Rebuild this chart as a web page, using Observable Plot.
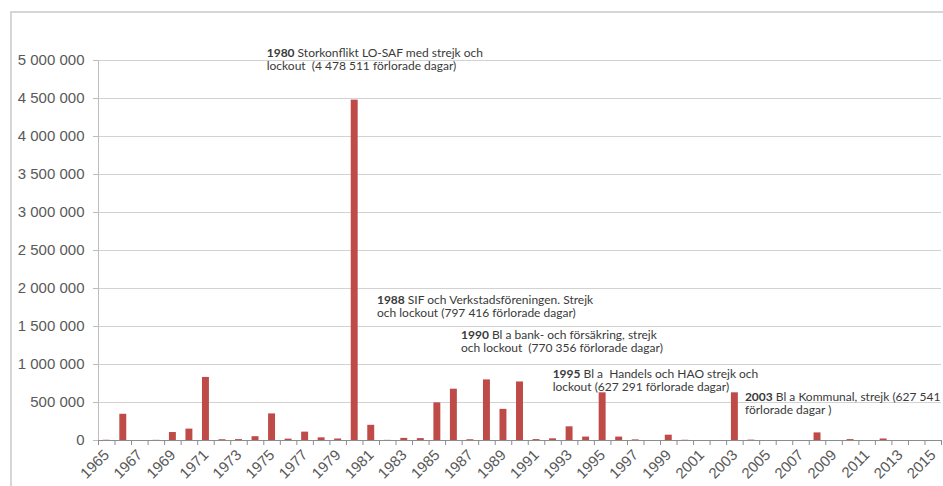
<!DOCTYPE html>
<html><head><meta charset="utf-8">
<script src="https://cdn.jsdelivr.net/npm/d3@7"></script>
<script src="https://cdn.jsdelivr.net/npm/@observablehq/plot@0.6"></script>
<style>
html,body{margin:0;padding:0;background:#fff;}
#wrap{position:relative;width:943px;height:486px;overflow:hidden;background:#fff;}
#frame{position:absolute;left:10px;top:11px;right:0;bottom:0;border-left:2px solid #d6d6d6;border-top:2px solid #d6d6d6;pointer-events:none;}
</style></head><body>
<div id="wrap"><div id="chart"></div><div id="frame"></div></div>
<script>
// Categories
const years = [1965,1966,1967,1968,1969,1970,1971,1972,1973,1974,1975,1976,1977,1978,1979,
  1980,1981,1982,1983,1984,1985,1986,1987,1988,1989,1990,1991,1992,1993,1994,
  1995,1996,1997,1998,1999,2000,2001,2002,2003,2004,2005,2006,2007,2008,2009,
  2010,2011,2012,2013,2014,2015];
// Lost working days per year
const values = [3000,345000,0,2000,105000,150000,830000,10000,12000,50000,350000,18000,110000,35000,20000,
  4478511,200000,2000,28000,25000,495000,675000,10000,797416,410000,770356,12000,22000,180000,45000,
  627291,45000,8000,0,70000,3000,0,0,627541,5000,0,0,0,100000,0,
  12000,0,20000,0,0,0];
// Tick labels
const yTicks = [0,500000,1000000,1500000,2000000,2500000,3000000,3500000,4000000,4500000,5000000];
const xLabelYears = [1965,1967,1969,1971,1973,1975,1977,1979,1981,1983,1985,1987,1989,1991,1993,1995,1997,1999,2001,2003,2005,2007,2009,2011,2013,2015];
// Annotations
const annYears = [1980,1988,1990,1995,2003];
const annTexts = [
  "1980 Storkonflikt LO-SAF med strejk och\nlockout  (4 478 511 förlorade dagar)",
  "1988 SIF och Verkstadsföreningen. Strejk\noch lockout (797 416 förlorade dagar)",
  "1990 Bl a bank- och försäkring, strejk\noch lockout  (770 356 förlorade dagar)",
  "1995 Bl a  Handels och HAO strejk och\nlockout (627 291 förlorade dagar)",
  "2003 Bl a Kommunal, strejk (627 541\nförlorade dagar )"
];
// annotation offsets from bar top (layout)
const annDx = [-88,-110,-59,-50,10];
const annDy = [-52.6,-85.4,-52.5,-24.3,-1.3];

const W = 943, H = 486, mL = 98, mR = 2, mT = 60, mB = 46;
const step = (W - mL - mR) / years.length;
const fmt = d3.formatLocale({decimal: ",", thousands: "\u00a0", grouping: [3], currency: ["", ""]}).format(",");
const data = years.map((year, i) => ({year, value: values[i]}));
const ann = annYears.map((year, i) => ({year, value: values[years.indexOf(year)], text: annTexts[i], dx: annDx[i], dy: annDy[i]}));

const chart = Plot.plot({
  width: W, height: H, marginLeft: mL, marginRight: mR, marginTop: mT, marginBottom: mB,
  style: {background: "#fff", fontFamily: "'Liberation Sans', Arial, sans-serif", color: "#595959", overflow: "visible"},
  x: {type: "band", domain: years, paddingInner: 0.58, paddingOuter: 0.29, round: false, axis: null},
  y: {domain: [0, 5000000], axis: null},
  marks: [
    Plot.gridY({ticks: yTicks, stroke: "#d2d2d2", strokeOpacity: 1}),
    Plot.ruleX([years[0]], {x: d => d, dx: -step / 2, stroke: "#bdbdbd"}),
    Plot.axisY({ticks: yTicks, tickSize: 5, tickPadding: 9, tickFormat: fmt, fontSize: 15, stroke: "#bdbdbd", fill: "#595959", label: null}),
    Plot.barY(data, {x: "year", y: "value", fill: "#be4b48"}),
    Plot.ruleY([0], {stroke: "#8c8c8c"}),
    Plot.ruleX(years, {x: d => d, y1: 0, y2: 0, insetBottom: -5, dx: -step / 2, stroke: "#8c8c8c"}),
    Plot.ruleX([years[years.length - 1]], {x: d => d, y1: 0, y2: 0, insetBottom: -5, dx: step / 2, stroke: "#8c8c8c"}),
    Plot.axisX({ticks: xLabelYears, tickSize: 0, tickPadding: 12, tickRotate: -45, tickFormat: d => String(d), fontSize: 15, fill: "#595959", label: null}),
    ...ann.map(a => Plot.text([a], {x: "year", y: "value", text: "text", dx: a.dx, dy: a.dy,
      textAnchor: "start", lineAnchor: "top", lineHeight: 1.1, fontSize: 12, fontFamily: "Lato, 'Noto Sans', sans-serif",
      fill: "#3a3a3a"}))
  ]
});
document.getElementById("chart").appendChild(chart);

// bold the leading year of each annotation
d3.select(chart).selectAll('g[aria-label="text"] text').each(function () {
  const first = this.querySelector("tspan") || this;
  const s = first.textContent;
  const k = s.indexOf(" ");
  if (k < 0) return;
  first.textContent = "";
  const b = document.createElementNS("http://www.w3.org/2000/svg", "tspan");
  b.setAttribute("font-weight", "bold");
  b.textContent = s.slice(0, k);
  first.appendChild(b);
  first.appendChild(document.createTextNode(s.slice(k)));
});
</script>
</body></html>
